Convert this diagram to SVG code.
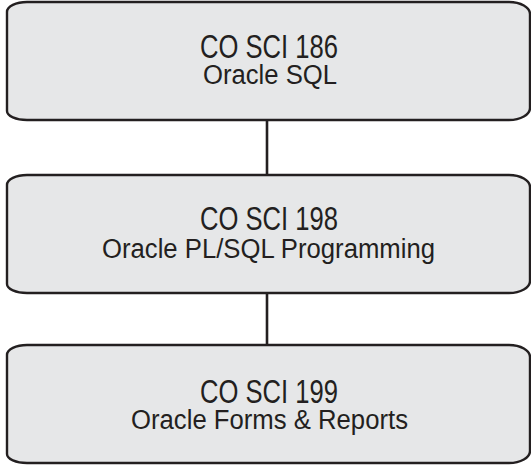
<svg xmlns="http://www.w3.org/2000/svg" width="531" height="465" viewBox="0 0 531 465">
<style>
.box{fill:#e6e7e8;stroke:#231f20;stroke-width:2.4}
.t1{font-family:"Liberation Sans Narrow","Liberation Sans",Arial,sans-serif;font-size:33px;fill:#231f20;text-anchor:middle}
.t2{font-family:"Liberation Sans Narrow","Liberation Sans",Arial,sans-serif;font-size:27px;fill:#231f20;text-anchor:middle}
.conn{stroke:#231f20;stroke-width:2.6;fill:none}
</style>
<defs>
<path id="shape" d="M27,0 H509 A21,12 0 0 1 530,12 V106 A21,12 0 0 1 509,118 H27 A20,9 0 0 1 7,109 V10 A20,10 0 0 1 27,0 Z"/>
</defs>
<g id="connectors">
<line class="conn" x1="267" y1="121" x2="267" y2="174"/>
<line class="conn" x1="267" y1="293" x2="267" y2="345"/>
</g>
<g id="node-186">
<use href="#shape" class="box" transform="translate(0,2)"/>
<text class="t1" x="269" y="58" textLength="138" lengthAdjust="spacingAndGlyphs">CO SCI 186</text>
<text class="t2" x="270" y="84" textLength="134" lengthAdjust="spacingAndGlyphs">Oracle SQL</text>
</g>
<g id="node-198">
<use href="#shape" class="box" transform="translate(0,175)"/>
<text class="t1" x="269" y="230" textLength="138" lengthAdjust="spacingAndGlyphs">CO SCI 198</text>
<text class="t2" x="268.5" y="258" textLength="333" lengthAdjust="spacingAndGlyphs">Oracle PL/SQL Programming</text>
</g>
<g id="node-199">
<use href="#shape" class="box" transform="translate(0,345)"/>
<text class="t1" x="269" y="403" textLength="138" lengthAdjust="spacingAndGlyphs">CO SCI 199</text>
<text class="t2" x="269.5" y="429" textLength="277" lengthAdjust="spacingAndGlyphs">Oracle Forms &amp; Reports</text>
</g>
</svg>
